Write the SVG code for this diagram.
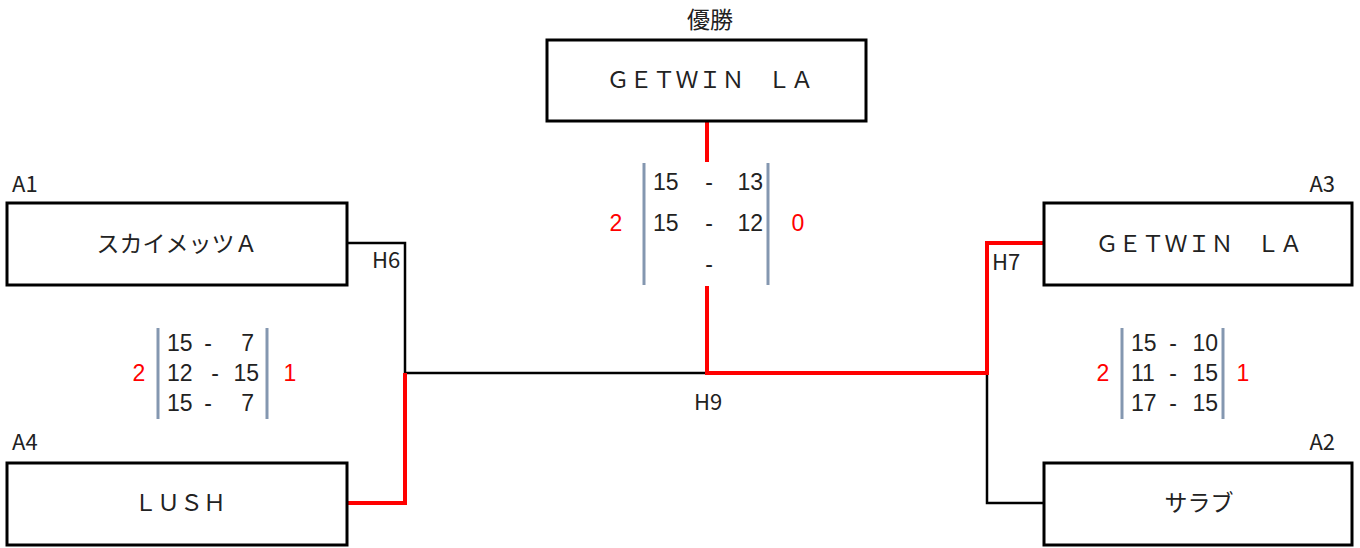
<svg xmlns="http://www.w3.org/2000/svg" width="1360" height="548" viewBox="0 0 1360 548">
<style>
text{font-family:"Noto Sans CJK JP","Noto Sans",sans-serif;fill:#222}
.box{fill:#fff;stroke:#000;stroke-width:3}
.nm{font-size:23px;text-anchor:middle}
.lb{font-size:22px}
.hl{font-size:22px}
.sc{font-family:"Liberation Sans","Noto Sans",sans-serif;font-size:23px}
.m{text-anchor:middle}
.e{text-anchor:end}
.w{fill:#f00;font-family:"Liberation Sans","Noto Sans",sans-serif;font-size:23px;text-anchor:middle}
.bar{stroke:#8497b0;stroke-width:3}
.k{fill:none;stroke:#000;stroke-width:2.5}
.r{fill:none;stroke:#f00;stroke-width:4}
</style>
<g id="connectors">
<polyline class="k" points="348,243 405,243 405,373"/>
<line class="k" x1="405" y1="373" x2="707" y2="373"/>
<polyline class="k" points="987,373 987,503 1043,503"/>
<polyline class="r" points="348,503 405,503 405,373"/>
<line class="r" x1="707" y1="121" x2="707" y2="162"/>
<polyline class="r" points="707,286 707,373 987,373 987,243 1043,243"/>
</g>
<g id="final">
<text class="nm" x="710" y="28">優勝</text>
<rect class="box" x="547" y="40" width="319" height="81"/>
<text class="nm" x="710" y="88">ＧＥＴＷＩＮ　ＬＡ</text>
</g>
<g id="A1">
<text class="lb" x="12" y="192">A1</text>
<rect class="box" x="7" y="203" width="340" height="82"/>
<text class="nm" x="177" y="252">スカイメッツＡ</text>
</g>
<g id="A4">
<text class="lb" x="12" y="450">A4</text>
<rect class="box" x="7" y="463" width="340" height="82"/>
<text class="nm" x="180" y="511">ＬＵＳＨ</text>
</g>
<g id="A3">
<text class="lb" x="1335" y="192" text-anchor="end">A3</text>
<rect class="box" x="1044" y="203" width="308" height="82"/>
<text class="nm" x="1199" y="252">ＧＥＴＷＩＮ　ＬＡ</text>
</g>
<g id="A2">
<text class="lb" x="1335" y="450" text-anchor="end">A2</text>
<rect class="box" x="1044" y="463" width="308" height="82"/>
<text class="nm" x="1199" y="511">サラブ</text>
</g>
<g id="labels">
<text class="hl" x="372" y="268">H6</text>
<text class="hl" x="992" y="270">H7</text>
<text class="hl" x="694" y="410">H9</text>
</g>
<g id="score-final">
<line class="bar" x1="644" y1="163" x2="644" y2="285"/>
<line class="bar" x1="768" y1="163" x2="768" y2="285"/>
<text class="sc"><tspan x="653" y="190">15</tspan><tspan class="m" x="709" y="190">-</tspan><tspan class="e" x="763" y="190">13</tspan><tspan x="653" y="231">15</tspan><tspan class="m" x="709" y="231">-</tspan><tspan class="e" x="763" y="231">12</tspan><tspan class="m" x="709" y="272">-</tspan></text>
<text class="w" x="616" y="231">2</text>
<text class="w" x="798" y="231">0</text>
</g>
<g id="score-H6">
<line class="bar" x1="158" y1="328" x2="158" y2="419"/>
<line class="bar" x1="267" y1="328" x2="267" y2="419"/>
<text class="sc"><tspan x="167" y="351">15</tspan><tspan class="m" x="208" y="351">-</tspan><tspan class="e" x="254" y="351">7</tspan><tspan x="167" y="381">12</tspan><tspan class="m" x="215" y="381">-</tspan><tspan class="e" x="259" y="381">15</tspan><tspan x="167" y="411">15</tspan><tspan class="m" x="208" y="411">-</tspan><tspan class="e" x="254" y="411">7</tspan></text>
<text class="w" x="139" y="381">2</text>
<text class="w" x="290" y="381">1</text>
</g>
<g id="score-H7">
<line class="bar" x1="1122" y1="328" x2="1122" y2="419"/>
<line class="bar" x1="1223" y1="328" x2="1223" y2="419"/>
<text class="sc"><tspan x="1131" y="351">15</tspan><tspan class="m" x="1173" y="351">-</tspan><tspan class="e" x="1218" y="351">10</tspan><tspan x="1131" y="381">11</tspan><tspan class="m" x="1173" y="381">-</tspan><tspan class="e" x="1218" y="381">15</tspan><tspan x="1131" y="411">17</tspan><tspan class="m" x="1173" y="411">-</tspan><tspan class="e" x="1218" y="411">15</tspan></text>
<text class="w" x="1103" y="381">2</text>
<text class="w" x="1243" y="381">1</text>
</g>
</svg>
